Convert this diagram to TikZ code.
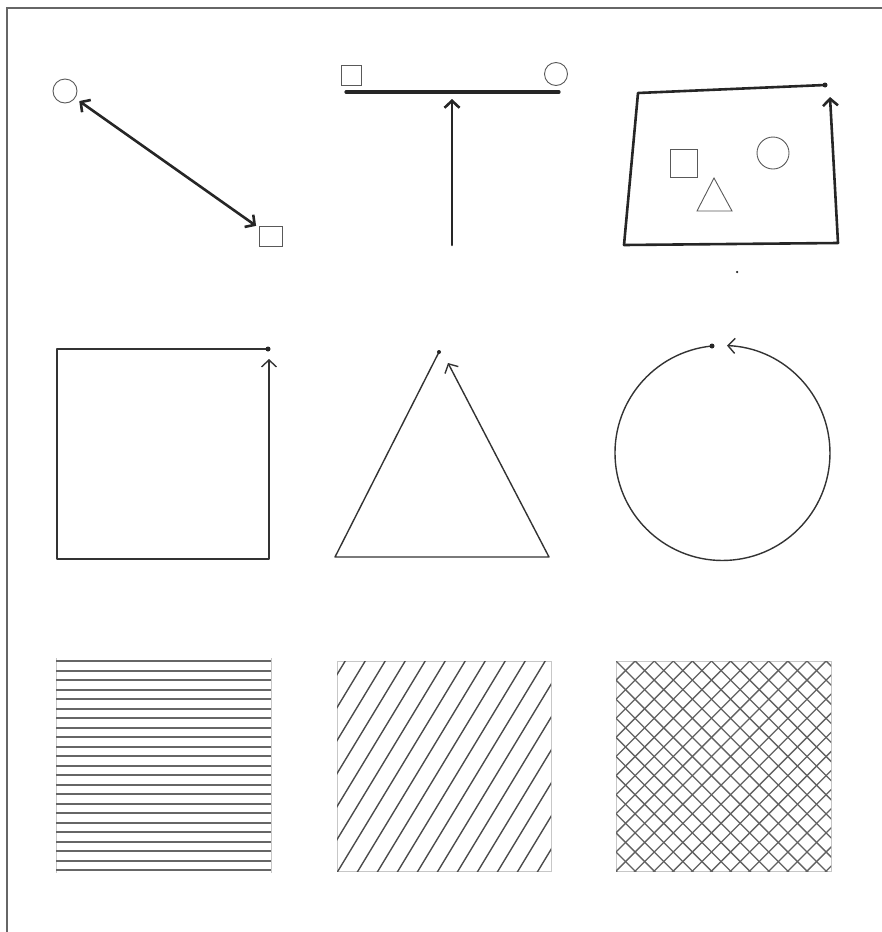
\documentclass[tikz,border=0pt]{standalone}
\usepackage{tikz}
\usetikzlibrary{arrows.meta}

\begin{document}
\begin{tikzpicture}[
  x=1pt, y=-1pt, >={Straight Barb[length=7pt,width=15pt]},
  thk/.style={line width=2.6pt, draw=black!85, line cap=round, line join=round},
  thn/.style={line width=1.4pt, draw=black!80, line join=round},
  sm/.style={draw=black!65, line width=0.9pt, inner sep=0pt},
  sq/.style={sm, rectangle}, ci/.style={sm, circle},
  dot/.style={circle, fill=black!85, inner sep=0pt, minimum size=5pt},
  hatch/.style={line width=1.6pt, draw=black!70},
  frm/.style={draw=black!22, line width=0.6pt}]
\useasboundingbox (0,0) rectangle (882,932);
\draw[black!60, line width=1.5pt] (7,932) -- (7,8) -- (882,8);
% row 1
\node[ci, minimum size=24pt] (c1) at (65,91) {};
\node[sq, minimum width=23pt, minimum height=20pt] (q1) at (270.5,236) {};
\draw[thk, <->, shorten <=5pt, shorten >=3pt] (c1) -- (q1);
\node[sq, minimum size=20pt] (q2) at (351,75) {};
\node[ci, minimum size=23pt] (c2) at (556,74) {};
\coordinate (b2l) at (346,92);
\coordinate (b2r) at (559,92);
\coordinate (a2s) at (452,245);
\coordinate (a2t) at (452,99);
\draw[thk, line width=3.2pt] (b2l) -- (b2r);
\draw[thk, ->] (a2s) -- (a2t);
\coordinate (p3a) at (825,85);
\coordinate (p3b) at (638,93);
\coordinate (p3c) at (624,245);
\coordinate (p3d) at (838,243);
\coordinate (p3e) at (830,97);
\draw[thk, ->] (p3a) -- (p3b) -- (p3c) -- (p3d) -- (p3e);
\node[dot] (d3) at (p3a) {};
\node[sq, minimum width=27pt, minimum height=28pt] (q3) at (683.5,163) {};
\node[ci, minimum size=32pt] (c3) at (773,153) {};
\coordinate (t3a) at (714,178);
\coordinate (t3b) at (697,211);
\coordinate (t3c) at (732,211);
\draw[sm] (t3a) -- (t3b) -- (t3c) -- cycle;
\node[dot, minimum size=2.5pt] (sp) at (737,272) {};
% row 2
\coordinate (p4a) at (268,349);
\coordinate (p4b) at (57,349);
\coordinate (p4c) at (57,559);
\coordinate (p4d) at (269,559);
\coordinate (p4e) at (269,359);
\draw[thn, ->] (p4a) -- (p4b) -- (p4c) -- (p4d) -- (p4e);
\node[dot] (d4) at (p4a) {};
\coordinate (p5a) at (439,352);
\coordinate (p5b) at (335,557);
\coordinate (p5c) at (549,557);
\coordinate (p5d) at (448,363);
\draw[thn, ->] (p5a) -- (p5b) -- (p5c) -- (p5d);
\node[dot, minimum size=4pt] (d5) at (p5a) {};
\coordinate (d6p) at (712,346);
\draw[thn, ->] (d6p) arc[start angle=95.6, end angle=447.6, radius=107.5pt];
\node[dot] (d6) at (d6p) {};
% row 3
\draw[frm] (56,658) -- (56,873) (271,658) -- (271,873);
\foreach \i in {0,...,22}
  \draw[hatch, line width=2pt, draw=black!60] (56,{661+9.5*\i}) -- (271,{661+9.5*\i});
\draw[frm] (337,661) rectangle (551,871);
\begin{scope}
  \clip (337,661) rectangle (551,871);
  \foreach \c in {-6,...,10}
    \draw[hatch, line width=1.4pt] ({332.5+20*\c},880) -- ({496.1+20*\c},610);
\end{scope}
\draw[frm] (616,661) rectangle (831,871);
\begin{scope}
  \clip (616,661) rectangle (831,871);
  \foreach \k in {-12,...,24} {
    \draw[hatch, line width=1.3pt, draw=black!62] ({616+19.1*\k-20},641) -- ({616+19.1*\k+240},901);
    \draw[hatch, line width=1.3pt, draw=black!62] ({616+19.1*\k+20},641) -- ({616+19.1*\k-240},901);
  }
\end{scope}
\end{tikzpicture}
\end{document}
